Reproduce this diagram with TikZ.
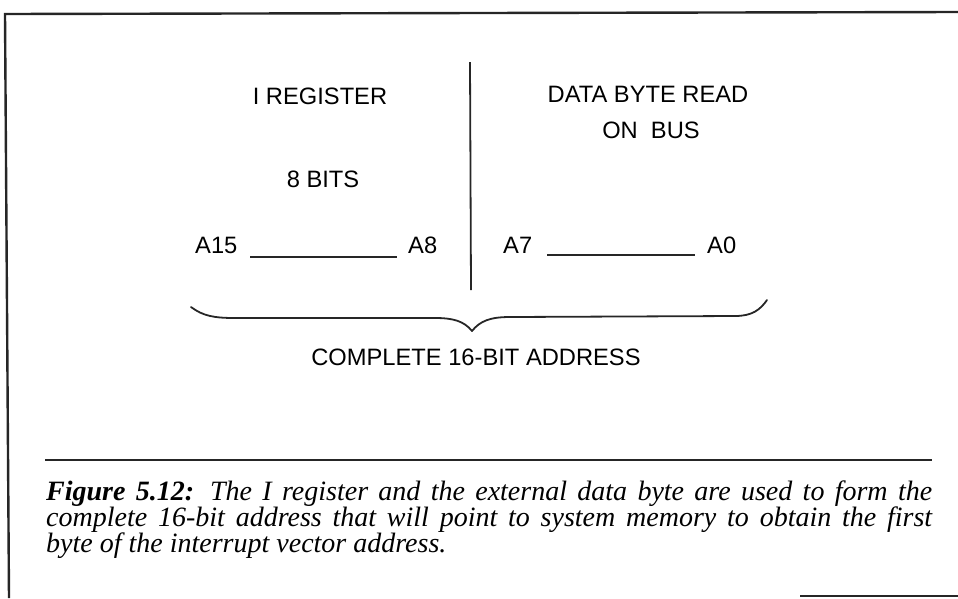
\documentclass[tikz,border=0pt]{standalone}
\usepackage{fontspec}
\newfontfamily\lsans{Liberation Sans}
\newfontfamily\capserif{Liberation Serif}
\begin{document}
\begin{tikzpicture}[x=1pt,y=-1pt,
  lbl/.style={font=\lsans\fontsize{23.7}{26}\selectfont, inner sep=0pt, text=black},
  capline/.style={font=\capserif\itshape\fontsize{28}{26}\selectfont, inner sep=0pt, anchor=base west, text=black},
  rulel/.style={line width=1.6pt, black!85},
  frame/.style={line width=2.4pt, black!85},
  bracel/.style={line width=1.8pt, black!85, line cap=round, line join=round}]
\useasboundingbox (0,0) rectangle (958,598);
% frame
\draw[frame] (958,12) -- (5,14) -- (9,598);
\draw[frame] (800,596) -- (958,596);
% divider
\coordinate (dtop) at (470,62);
\coordinate (dbot) at (471,290);
\draw[rulel, line width=1.8pt] (dtop) -- (dbot);
% headings
\node[lbl, anchor=base] (ireg) at (320,104) {I REGISTER};
\node[lbl, anchor=base] (bits) at (323,187) {8 BITS};
\node[lbl, anchor=base] (data) at (648,102) {DATA BYTE READ};
\node[lbl, anchor=base] (bus) at (651,138) {ON\ \ BUS};
% address row
\node[lbl, anchor=base west] (a15) at (195,253) {A15};
\node[lbl, anchor=base west] (a8) at (408,253) {A8};
\node[lbl, anchor=base west] (a7) at (503,253) {A7};
\node[lbl, anchor=base west] (a0) at (707,253) {A0};
\coordinate (u1a) at (250,257);
\coordinate (u1b) at (397,257);
\coordinate (u2a) at (547,255);
\coordinate (u2b) at (695,255);
\draw[rulel] (u1a) -- (u1b);
\draw[rulel] (u2a) -- (u2b);
% brace
\coordinate (bl) at (191,307);
\coordinate (bt) at (472,331);
\coordinate (br) at (767,300);
\draw[bracel] (bl) .. controls (203,316) and (214,318) .. (235,318)
  -- (435,318) .. controls (453,318) and (464,321) .. (bt)
  .. controls (480,321) and (490,317) .. (510,317)
  -- (735,316) .. controls (752,316) and (760,310) .. (br);
\node[lbl, anchor=base] (complete) at (476,365) {COMPLETE 16-BIT ADDRESS};
% caption rule
\coordinate (ra) at (45,460);
\coordinate (rb) at (932,460);
\draw[rulel] (ra) -- (rb);
\node[capline] (cap1) at (46,500) {\makebox[886pt][s]{\textbf{Figure 5.12:} The I register and the external data byte are used to form the}};
\node[capline] (cap2) at (46,526) {\makebox[886pt][s]{complete 16-bit address that will point to system memory to obtain the first}};
\node[capline] (cap3) at (46,552) {byte of the interrupt vector address.};
\end{tikzpicture}
\end{document}
